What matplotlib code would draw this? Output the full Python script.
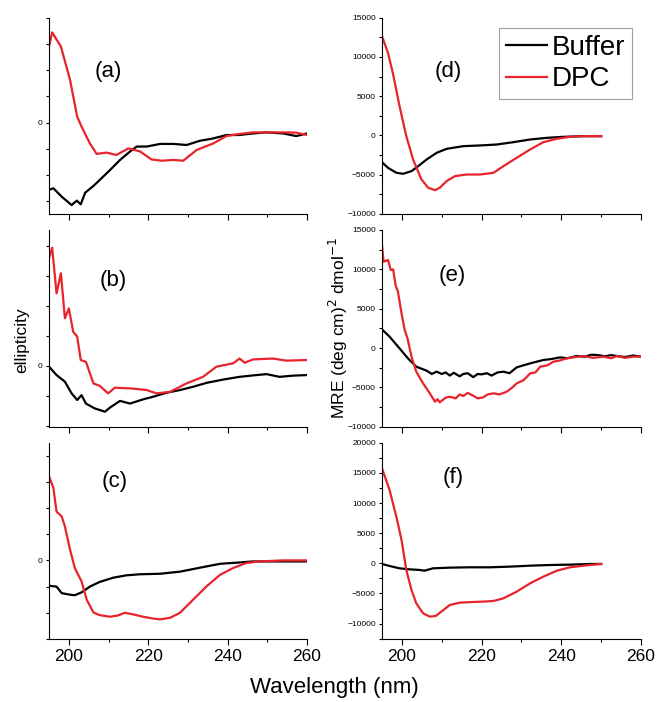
import matplotlib
matplotlib.use("Agg")
import matplotlib.pyplot as plt
from matplotlib.ticker import MultipleLocator, FixedLocator, FixedFormatter

plt.rcParams['font.family'] = ['Liberation Sans', 'DejaVu Sans']

RED = "#e8232b"

# ---- panel (a) : ellipticity, arbitrary units ----
a_wl_dpc = [195, 195.8, 198, 200.3, 202.1, 203.2, 205.3, 207, 209.5, 212, 215, 218, 220.8, 223.4,
            226.3, 228.8, 232.2, 236.4, 239.7, 243, 246.4, 249.8, 254, 257.3, 260]
a_dpc = [2.9, 3.44, 2.9, 1.63, 0.23, -0.15, -0.79, -1.19, -1.14, -1.23, -0.98, -1.1, -1.4, -1.45,
         -1.42, -1.45, -1.04, -0.79, -0.51, -0.43, -0.37, -0.37, -0.37, -0.38, -0.47]
a_wl_buf = [195, 196.1, 198.2, 200.7, 202, 203, 204.1, 206.2, 207.8, 210.4, 212.9, 215.4, 217.1,
            219.6, 223, 226.3, 229.7, 233, 236.4, 239.7, 243, 246.4, 249.8, 254, 257.3, 260]
a_buf = [-2.56, -2.5, -2.82, -3.14, -2.97, -3.11, -2.67, -2.41, -2.18, -1.8, -1.42, -1.1, -0.91,
         -0.91, -0.81, -0.81, -0.85, -0.69, -0.6, -0.47, -0.47, -0.41, -0.37, -0.41, -0.51, -0.41]

# ---- panel (b) ----
b_wl_dpc = [195, 195.8, 196.9, 198, 199, 200, 201.1, 202.1, 203, 204.3, 206.2, 207.8, 209.9, 211.6,
            216.2, 219.6, 222.1, 225.5, 229.6, 233.8, 237.2, 241.4, 243, 244.3, 246.4, 251.4,
            254.8, 260]
b_dpc = [3.58, 3.93, 2.41, 3.08, 1.58, 1.91, 1.13, 0.97, 0.19, 0.13, -0.59, -0.67, -0.92, -0.73,
         -0.76, -0.81, -0.92, -0.87, -0.59, -0.37, -0.03, 0.08, 0.24, 0.1, 0.21, 0.24, 0.17, 0.19]
b_wl_buf = [195, 196.9, 199, 200.7, 202.1, 203.2, 204.3, 206.5, 209.1, 210.3, 212.9, 215.4, 218.7,
            221.3, 224.6, 228, 231.3, 234.7, 238.9, 243, 247.3, 249.8, 253.1, 256.5, 260]
b_buf = [-0.03, -0.31, -0.53, -0.92, -1.14, -0.98, -1.26, -1.42, -1.53, -1.4, -1.17, -1.26, -1.12,
         -1.03, -0.9, -0.81, -0.7, -0.57, -0.46, -0.37, -0.31, -0.28, -0.37, -0.33, -0.31]

# ---- panel (c) ----
c_wl_dpc = [195, 196.1, 196.9, 198.2, 199, 200.3, 201.5, 203.2, 204.5, 206.2, 207.8, 210.4, 212.4,
            214.1, 216.2, 218.7, 221.3, 223, 225.5, 228, 231.3, 234.7, 238.1, 241.4, 244.7, 248.1,
            254, 260]
c_dpc = [3.21, 2.77, 1.86, 1.68, 1.3, 0.41, -0.29, -0.8, -1.5, -1.99, -2.09, -2.15, -2.1, -2.0,
         -2.06, -2.15, -2.22, -2.25, -2.19, -2.0, -1.5, -0.99, -0.55, -0.29, -0.1, -0.04, 0, 0]
c_wl_buf = [195, 196.9, 198.2, 200.3, 201.5, 203.2, 205.3, 207.8, 211.2, 214.5, 217.9, 223, 228,
            233, 238.1, 243, 246.4, 251.4, 260]
c_buf = [-0.97, -1.0, -1.25, -1.31, -1.33, -1.22, -1.0, -0.82, -0.66, -0.57, -0.53, -0.51, -0.43,
         -0.28, -0.13, -0.08, -0.04, -0.04, -0.04]

# ---- panel (d) : MRE ----
d_wl_dpc = [195, 196.5, 197.8, 199.4, 201.1, 202.8, 204.9, 206.6, 208.3, 209.5, 211.2, 213.3, 216.2,
            219.6, 223, 225.5, 228.8, 232.2, 235.5, 238.9, 242.2, 245.6, 250]
d_dpc = [12650, 10530, 7770, 3740, -85, -3060, -5600, -6660, -6960, -6660, -5810, -5180, -4970,
         -4970, -4750, -3900, -2840, -1780, -850, -420, -170, -85, -85]
d_wl_buf = [195, 196.5, 198.6, 200.3, 202.4, 204.1, 206.2, 208.7, 211.2, 215.4, 219.6, 223.8, 228,
            232.2, 236.4, 240.6, 245.6, 250]
d_buf = [-3400, -4120, -4750, -4880, -4540, -3900, -3060, -2210, -1700, -1360, -1270, -1150, -850,
         -510, -300, -170, -85, -85]

# ---- panel (e) ----
e_wl_dpc = [195, 195.4, 196.5, 197.2, 197.8, 198.4, 199, 199.9, 200.7, 201.4, 202.4, 203.6, 205.3,
            207, 208.3, 208.9, 209.5, 211, 212, 213.5, 214.5, 215.4, 216.5, 217.9, 219, 220.4, 221.5,
            223, 224.5, 226.3, 227.5, 228.8, 230.5, 232.2, 233.5, 234.7, 236.5, 238, 239.5, 241.4,
            243.5, 245.6, 248, 250.6, 252.5, 254, 256, 258, 260]
e_dpc = [13090, 10970, 11190, 9920, 10000, 8000, 7160, 4410, 2290, 1230, -1100, -3000, -4490, -5760,
         -6820, -6500, -6900, -6300, -6190, -6400, -5900, -6100, -5700, -6060, -6400, -6270, -5900,
         -5760, -5900, -5550, -5100, -4490, -4100, -3220, -3100, -2370, -2200, -1740, -1600, -1310,
         -1150, -1020, -1250, -1100, -1300, -1020, -1250, -1100, -1100]
e_wl_buf = [195, 196.9, 199.4, 201.5, 203.6, 206.2, 207.5, 208.7, 210, 211, 212, 213, 214.5, 215.4,
            216.5, 217.9, 219, 220, 221.3, 222.5, 224, 225.5, 227, 228.8, 230.5, 232.2, 235.5,
            237.5, 239.7, 241.5, 243.9, 246, 247.5, 249, 251, 252.5, 254, 256, 258, 260]
e_buf = [2370, 1440, -40, -1310, -2370, -2880, -3300, -3000, -3300, -3100, -3500, -3150, -3600,
         -3300, -3200, -3700, -3300, -3350, -3200, -3500, -3100, -3010, -3200, -2460, -2200, -1950,
         -1520, -1400, -1190, -1300, -1020, -1100, -850, -890, -1050, -900, -1020, -1150, -950, -1100]

# ---- panel (f) ----
f_wl_dpc = [195, 196.9, 198.6, 199.9, 201.1, 202.4, 203.6, 205.3, 207, 208.5, 209.9, 212, 214.5,
            217.9, 220.4, 223, 225.5, 228.8, 232.2, 235.5, 238.9, 242.2, 245.6, 250]
f_dpc = [15750, 12150, 7730, 3870, -1100, -4420, -6630, -8290, -8840, -8730, -8010, -6910, -6520,
         -6410, -6350, -6240, -5800, -4700, -3310, -2210, -1220, -660, -390, -110]
f_wl_buf = [195, 196.9, 199.4, 201.9, 204.4, 205.7, 207.8, 212, 217, 222.1, 227.1, 232.2, 237.2,
            242.2, 247.3, 250]
f_buf = [-110, -440, -830, -1000, -1100, -1220, -830, -720, -660, -660, -550, -390, -280, -220,
         -110, -110]

W, H = 657, 702
fig = plt.figure(figsize=(W / 100, H / 100), dpi=100)


def box(x0, y0, x1, y1):
    return [x0 / W, 1 - y1 / H, (x1 - x0) / W, (y1 - y0) / H]


def style(ax, bottom_labels):
    for s in ("top", "right"):
        ax.spines[s].set_visible(False)
    for s in ("left", "bottom"):
        ax.spines[s].set_linewidth(0.8)
    ax.set_xlim(195, 260)
    ax.xaxis.set_major_locator(MultipleLocator(20))
    ax.xaxis.set_minor_locator(MultipleLocator(10))
    ax.tick_params(axis="x", which="major", direction="out", length=4, width=0.8, pad=3, labelsize=12.5)
    ax.tick_params(axis="x", which="minor", direction="out", length=2.5, width=0.8)
    ax.tick_params(axis="y", which="both", direction="out", length=2.5, width=0.8, pad=2)
    if not bottom_labels:
        ax.tick_params(axis="x", labelbottom=False)


left_panels = [
    ("(a)", box(49, 17.7, 307, 214), (-3.48, 4.0), (108, 72), a_wl_buf, a_buf, a_wl_dpc, a_dpc),
    ("(b)", box(49, 230, 307, 426.7), (-2.03, 4.52), (113, 280), b_wl_buf, b_buf, b_wl_dpc, b_dpc),
    ("(c)", box(49, 443, 307, 639), (-3.0, 4.48), (115, 482), c_wl_buf, c_buf, c_wl_dpc, c_dpc),
]
right_panels = [
    ("(d)", box(382, 17.7, 641, 214), (-10000, 15000), (448, 72), d_wl_buf, d_buf, d_wl_dpc, d_dpc),
    ("(e)", box(382, 230, 641, 426.7), (-10000, 15000), (452, 275), e_wl_buf, e_buf, e_wl_dpc, e_dpc),
    ("(f)", box(382, 442.7, 641, 639.3), (-12600, 20000), (453, 477), f_wl_buf, f_buf, f_wl_dpc, f_dpc),
]

axes = []
for i, (lab, pos, ylim, lpos, xb, yb, xd, yd) in enumerate(left_panels):
    ax = fig.add_axes(pos)
    ax.plot(xb, yb, color="black", lw=1.6)
    ax.plot(xd, yd, color=RED, lw=1.6)
    ax.set_ylim(*ylim)
    style(ax, i == 2)
    ticks = list(range(int(ylim[0]), int(ylim[1]) + 1))
    ax.yaxis.set_major_locator(FixedLocator(ticks))
    ax.yaxis.set_major_formatter(FixedFormatter(["0" if t == 0 else "" for t in ticks]))
    ax.tick_params(axis="y", labelsize=6)
    fig.text(lpos[0] / W, 1 - lpos[1] / H, lab, fontsize=16, ha="center", va="center")
    axes.append(ax)

for i, (lab, pos, ylim, lpos, xb, yb, xd, yd) in enumerate(right_panels):
    ax = fig.add_axes(pos)
    ax.plot(xb, yb, color="black", lw=1.6, label="Buffer")
    ax.plot(xd, yd, color=RED, lw=1.6, label="DPC")
    ax.set_ylim(*ylim)
    style(ax, i == 2)
    ax.yaxis.set_major_locator(MultipleLocator(5000))
    ax.yaxis.set_minor_locator(MultipleLocator(2500))
    ax.tick_params(axis="y", labelsize=6)
    fig.text(lpos[0] / W, 1 - lpos[1] / H, lab, fontsize=16, ha="center", va="center")
    axes.append(ax)
    if i == 0:
        leg = ax.legend(loc="upper right", bbox_to_anchor=((632 - 382) / 259, 1 - (28 - 17.7) / 196.3),
                        fontsize=20, frameon=True, fancybox=False, handlelength=1.5,
                        handletextpad=0.15, borderpad=0.25, labelspacing=0.2, borderaxespad=0)
        leg.get_frame().set_edgecolor("#888888")
        leg.get_frame().set_linewidth(0.8)

fig.text(22 / W, 1 - 340 / H, "ellipticity", rotation=90, fontsize=12.5, ha="center", va="center")
fig.text(338 / W, 1 - 328 / H, r"MRE (deg cm)$^2$ dmol$^{-1}$", rotation=90, fontsize=12.5,
         ha="center", va="center")
fig.text(334 / W, 1 - 688 / H, "Wavelength (nm)", fontsize=16, ha="center", va="center")

fig.savefig("out.png", dpi=100)
